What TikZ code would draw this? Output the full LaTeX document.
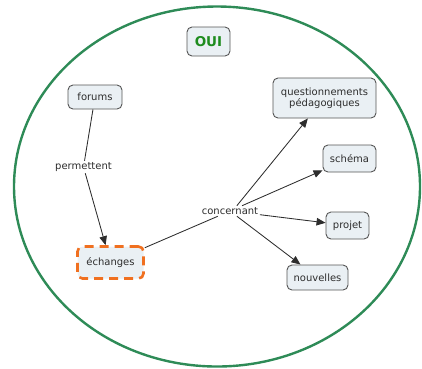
\documentclass[tikz,border=0pt]{standalone}
\usepackage{fontspec}
\setmainfont{DejaVu Sans}
\usetikzlibrary{arrows.meta}
\definecolor{ringgreen}{RGB}{46,139,87}
\definecolor{titlegreen}{RGB}{30,140,30}
\definecolor{boxfill}{RGB}{234,240,244}
\definecolor{boxline}{RGB}{85,85,85}
\definecolor{hlorange}{RGB}{240,112,32}
\definecolor{inkgray}{RGB}{45,45,45}
\begin{document}
\begin{tikzpicture}[x=1pt,y=-1pt,
  concept/.style={draw=boxline, line width=0.9pt, fill=boxfill, rounded corners=5pt,
    text=inkgray, font=\fontsize{10}{11.5}\selectfont, align=center, inner sep=2pt},
  linkword/.style={text=inkgray, font=\fontsize{10}{11.5}\selectfont, inner sep=1.5pt, fill=white},
  link/.style={draw=inkgray, line width=0.85pt},
  arrowlink/.style={link, -{Triangle[length=9pt,width=7.5pt]}}]
  \useasboundingbox (0,0) rectangle (422,368);
  % enclosing ring
  \draw[ringgreen, line width=2.4pt] (217,186.5) ellipse [x radius=203, y radius=180];
  % title
  \node[concept, minimum width=43pt, minimum height=29pt,
        font=\fontsize{13.5}{15}\selectfont\bfseries, text=titlegreen] (oui) at (208.5,41.5) {OUI};
  % concepts
  \node[concept, minimum width=54pt, minimum height=24pt] (forums) at (95,97) {forums};
  \node[concept, draw=hlorange, line width=2.6pt, dash pattern=on 9pt off 6pt,
        minimum width=66pt, minimum height=32pt] (echanges) at (110.5,262.5) {échanges};
  \node[concept, minimum width=103pt, minimum height=40pt] (quest) at (324.5,98)
        {questionnements\\pédagogiques};
  \node[concept, minimum width=53pt, minimum height=27pt] (schema) at (349.5,158.5) {schéma};
  \node[concept, minimum width=43pt, minimum height=27pt] (projet) at (347.5,225.5) {projet};
  \node[concept, minimum width=61pt, minimum height=25pt] (nouv) at (317.5,277.5) {nouvelles};
  % linking words
  \node[linkword] (perm) at (83.5,167) {permettent};
  \node[linkword] (conc) at (230,211) {concernant};
  \coordinate (concq) at ([xshift=-23pt]conc.north east);
  % connectors
  \draw[link] (forums) -- (perm);
  \draw[arrowlink] (perm) -- (echanges);
  \draw[link] (echanges) -- (conc);
  \draw[arrowlink] (concq) -- (quest);
  \draw[arrowlink] (conc) -- (schema);
  \draw[arrowlink] (conc) -- (projet);
  \draw[arrowlink] (conc) -- (nouv);
\end{tikzpicture}
\end{document}
